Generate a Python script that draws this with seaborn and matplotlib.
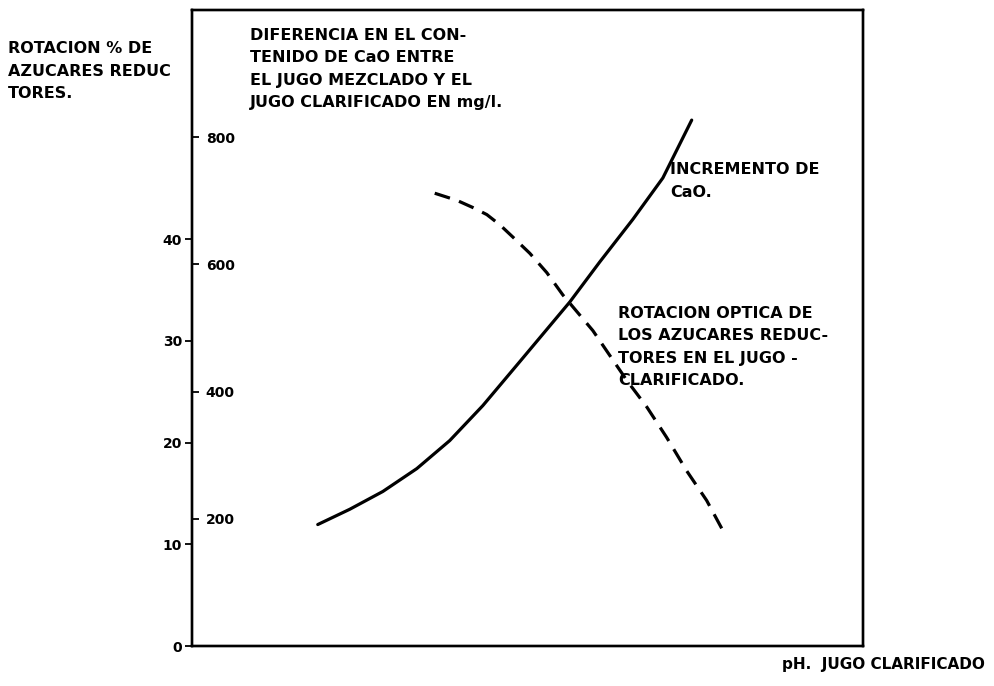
import matplotlib
matplotlib.use("Agg")
import matplotlib.pyplot as plt
import seaborn as sns
import pandas as pd

# solid curve: increment of CaO (mg/l, inner scale)
ph_cao = [6.563, 6.706, 6.854, 7.006, 7.153, 7.301, 7.466, 7.690, 7.824,
          7.972, 8.106, 8.235]
cao_mg = [191, 215, 243, 279, 323, 378, 447, 541, 604, 671, 736, 827]

# dashed curve: optical rotation of reducing sugars (%)
ph_rot = [7.086, 7.185, 7.256, 7.319, 7.377, 7.435, 7.511, 7.587, 7.659,
          7.793, 7.945, 8.034, 8.123, 8.213, 8.302, 8.383]
rot_pct = [44.5, 43.8, 43.1, 42.4, 41.4, 40.2, 38.6, 36.7, 34.5,
           31.0, 26.1, 23.5, 20.5, 17.2, 14.3, 11.0]

rot_ticks = [0, 10, 20, 30, 40]
cao_ticks = [200, 400, 600, 800]

df_cao = pd.DataFrame({"pH": ph_cao, "CaO": cao_mg})
df_rot = pd.DataFrame({"pH": ph_rot, "rot": rot_pct})

sns.set_style("white")
plt.rcParams["font.family"] = ["DejaVu Sans"]
plt.rcParams["font.weight"] = "bold"

fig = plt.figure(figsize=(9.94, 6.86), dpi=100)
ax = fig.add_axes([0.193, 0.0583, 0.675, 0.927])
ax2 = ax.twinx()

sns.lineplot(data=df_rot, x="pH", y="rot", ax=ax, color="black", lw=2.3,
             linestyle=(0, (5, 3)))
sns.lineplot(data=df_cao, x="pH", y="CaO", ax=ax2, color="black", lw=2.3)

ax.set_xlim(6.0, 9.0)
ax.set_ylim(0, 62.5)
ax2.set_ylim(0, 1000)
ax.set_xticks([])
ax.set_xlabel("")
ax.set_ylabel("")
ax2.set_ylabel("")

ax.set_yticks(rot_ticks)
ax.tick_params(axis="y", direction="out", length=5, width=1.3, pad=2,
               labelsize=10, colors="black", left=True)

# inner scale drawn on the left spine, ticks pointing in
ax2.yaxis.tick_left()
ax2.set_yticks(cao_ticks)
ax2.tick_params(axis="y", direction="in", length=5, width=1.3, pad=-10,
                labelsize=10, colors="black")
for lab in ax2.get_yticklabels():
    lab.set_ha("left")

for a in (ax, ax2):
    for s in a.spines.values():
        s.set_color("black")
        s.set_linewidth(1.7)

kw = dict(fontsize=11.5, fontweight="bold", color="black", va="center",
          linespacing=1.62)
fig.text(8 / 994, 1 - 71 / 686, "ROTACION % DE\nAZUCARES REDUC\nTORES.", **kw)
fig.text(250 / 994, 1 - 69 / 686,
         "DIFERENCIA EN EL CON-\nTENIDO DE CaO ENTRE\nEL JUGO MEZCLADO Y EL\nJUGO CLARIFICADO EN mg/l.",
         **kw)
fig.text(670 / 994, 1 - 181 / 686, "INCREMENTO DE\nCaO.", **kw)
fig.text(618 / 994, 1 - 347 / 686,
         "ROTACION OPTICA DE\nLOS AZUCARES REDUC-\nTORES EN EL JUGO -\nCLARIFICADO.", **kw)
fig.text(985 / 994, 1 - 664 / 686, "pH.  JUGO CLARIFICADO", ha="right",
         fontsize=11, fontweight="bold", color="black", va="center")

fig.savefig("out.png", dpi=100)
